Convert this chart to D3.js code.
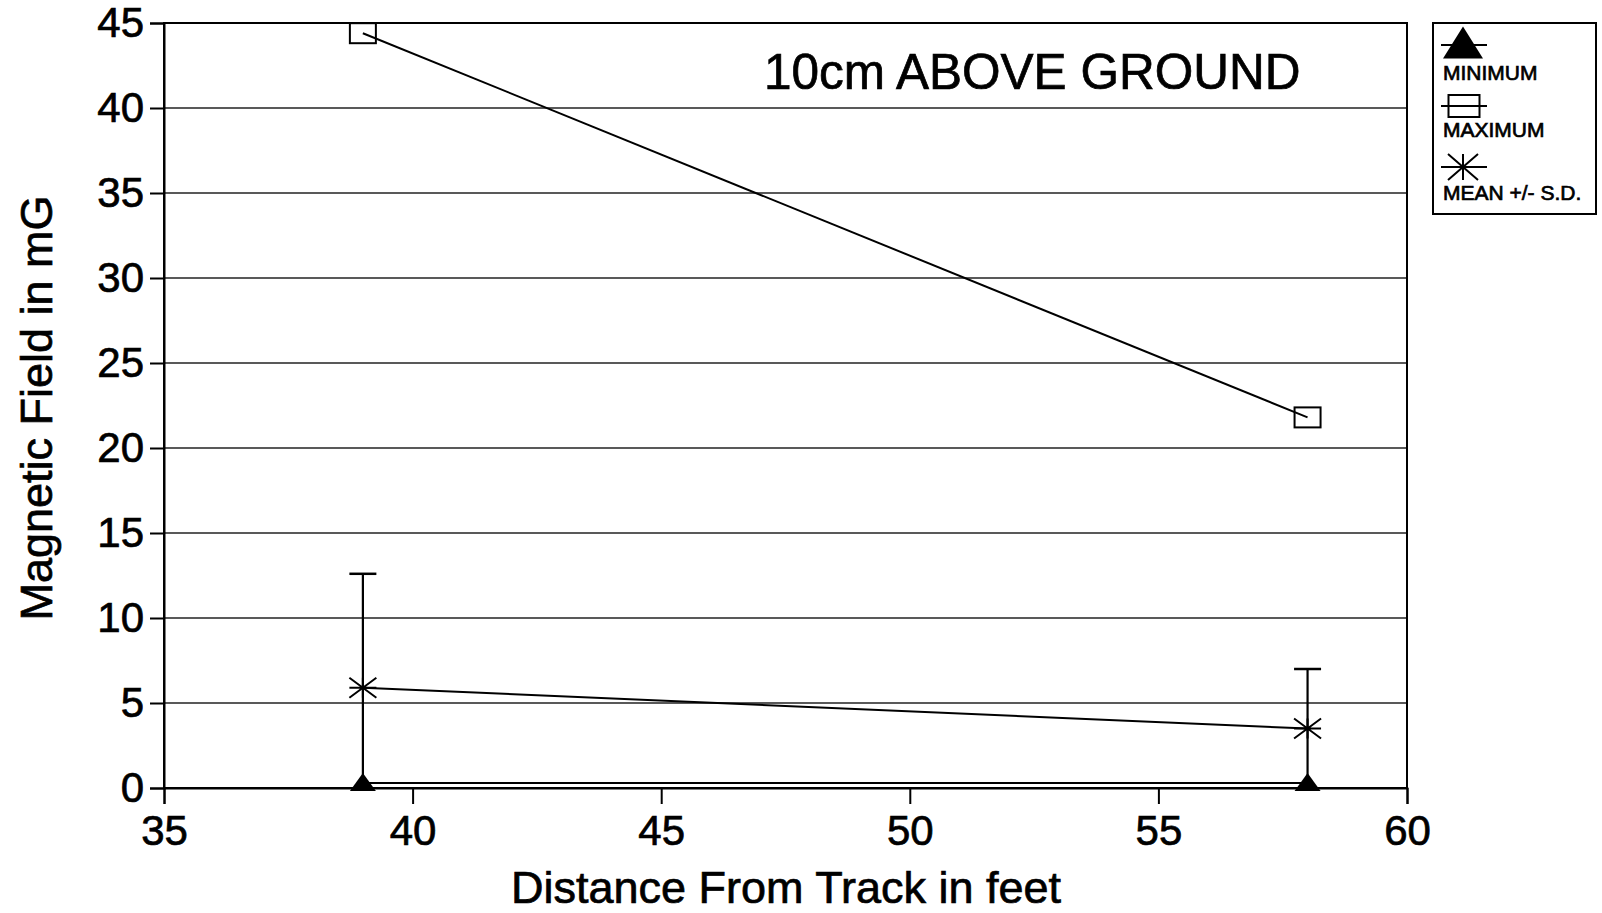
<!DOCTYPE html>
<html>
<head>
<meta charset="utf-8">
<script src="https://cdn.jsdelivr.net/npm/d3@7"></script>
<style>
  html, body { margin: 0; padding: 0; background: #fff; }
  svg { display: block; font-family: "Liberation Sans", Arial, Helvetica, sans-serif; }
  svg text { stroke: #000; stroke-width: 0.7px; fill: #000; }
</style>
</head>
<body>
<svg id="chart" width="1602" height="913"></svg>
<script>
// ---- data ----
const distances = [39, 58];
const minimumValues = [0.3, 0.3];
const maximumValues = [44.4, 21.8];
const meanValues = [5.9, 3.5];
const sdValues = [6.7, 3.5];
const xTicks = [35, 40, 45, 50, 55, 60];
const yTicks = [0, 5, 10, 15, 20, 25, 30, 35, 40, 45];
const legendLabels = ["MINIMUM", "MAXIMUM", "MEAN +/- S.D."];
const titleText = "10cm ABOVE GROUND";
const xLabel = "Distance From Track in feet";
const yLabel = "Magnetic Field in mG";

const svg = d3.select("#chart");
const x = d3.scaleLinear().domain([35, 60]).range([164, 1407]);
const y = d3.scaleLinear().domain([0, 45]).range([788, 23]);

// gridlines
svg.append("g").selectAll("line")
  .data(yTicks.filter(d => d > 0 && d < 45))
  .join("line")
  .attr("x1", x(35)).attr("x2", x(60))
  .attr("y1", d => y(d)).attr("y2", d => y(d))
  .attr("stroke", "#222").attr("stroke-width", 1.3);

// frame
svg.append("rect")
  .attr("x", x(35)).attr("y", y(45))
  .attr("width", x(60) - x(35)).attr("height", y(0) - y(45))
  .attr("fill", "none").attr("stroke", "#000").attr("stroke-width", 2);

// axes
const yAxis = d3.axisLeft(y).tickValues(yTicks).tickSize(14).tickPadding(6).tickFormat(d3.format("d"));
const gy = svg.append("g").attr("transform", `translate(${x(35)},0)`).call(yAxis);
gy.select(".domain").attr("stroke-width", 2);
gy.selectAll(".tick line").attr("stroke-width", 2);
gy.selectAll(".tick text").attr("font-size", 42).attr("fill", "#000")
  .attr("font-family", "'Liberation Sans', Arial, sans-serif");

const xAxis = d3.axisBottom(x).tickValues(xTicks).tickSize(16).tickPadding(11).tickFormat(d3.format("d"));
const gx = svg.append("g").attr("transform", `translate(0,${y(0)})`).call(xAxis);
gx.select(".domain").attr("stroke-width", 2);
gx.selectAll(".tick line").attr("stroke-width", 2);
gx.selectAll(".tick text").attr("font-size", 42).attr("fill", "#000")
  .attr("font-family", "'Liberation Sans', Arial, sans-serif");

// labels
svg.append("text").attr("x", 786).attr("y", 903).attr("text-anchor", "middle")
  .attr("font-size", 45).text(xLabel);
svg.append("text").attr("transform", "translate(52,408) rotate(-90)")
  .attr("text-anchor", "middle").attr("font-size", 45).text(yLabel);
svg.append("text").attr("x", 764).attr("y", 89).attr("font-size", 49.5).text(titleText);

const line = d3.line().x(d => x(d[0])).y(d => y(d[1]));
const pts = arr => distances.map((d, i) => [d, arr[i]]);

// symbols
function triangle(g, cx, cy, w, h) {
  g.append("path").attr("d", `M${cx},${cy - h * 0.55} L${cx + w / 2},${cy + h * 0.45} L${cx - w / 2},${cy + h * 0.45} Z`)
    .attr("fill", "#000");
}
function square(g, cx, cy, w, h) {
  g.append("rect").attr("x", cx - w / 2).attr("y", cy - h / 2).attr("width", w).attr("height", h)
    .attr("fill", "none").attr("stroke", "#000").attr("stroke-width", 2);
}
function asterisk(g, cx, cy, w, h) {
  const p = `M${cx - w / 2},${cy} L${cx + w / 2},${cy} M${cx},${cy - h / 2} L${cx},${cy + h / 2}` +
    ` M${cx - w / 2},${cy - h / 2} L${cx + w / 2},${cy + h / 2} M${cx - w / 2},${cy + h / 2} L${cx + w / 2},${cy - h / 2}`;
  g.append("path").attr("d", p).attr("stroke", "#000").attr("stroke-width", 2).attr("fill", "none");
}

const gData = svg.append("g");
// error bars
distances.forEach((d, i) => {
  const top = meanValues[i] + sdValues[i];
  const bot = Math.max(0, meanValues[i] - sdValues[i]);
  gData.append("line").attr("x1", x(d)).attr("x2", x(d)).attr("y1", y(top)).attr("y2", y(bot))
    .attr("stroke", "#000").attr("stroke-width", 2.2);
  gData.append("line").attr("x1", x(d) - 13.5).attr("x2", x(d) + 13.5).attr("y1", y(top)).attr("y2", y(top))
    .attr("stroke", "#000").attr("stroke-width", 2.5);
});

// series lines
[[maximumValues, 2], [meanValues, 2], [minimumValues, 2]].forEach(([arr, w]) => {
  gData.append("path").datum(pts(arr)).attr("d", line)
    .attr("fill", "none").attr("stroke", "#000").attr("stroke-width", w);
});

// markers
pts(maximumValues).forEach(p => square(gData, x(p[0]), y(p[1]), 26, 20));
pts(meanValues).forEach(p => asterisk(gData, x(p[0]), y(p[1]), 27, 20));
pts(minimumValues).forEach(p => triangle(gData, x(p[0]), y(p[1]), 26, 18));

// legend
const lg = svg.append("g");
lg.append("rect").attr("x", 1433).attr("y", 23).attr("width", 163).attr("height", 191)
  .attr("fill", "#fff").attr("stroke", "#000").attr("stroke-width", 2);
const legendY = [45, 106, 167];
const textY = [80, 137, 200];
legendLabels.forEach((lab, i) => {
  lg.append("line").attr("x1", 1441).attr("x2", 1487).attr("y1", legendY[i]).attr("y2", legendY[i])
    .attr("stroke", "#000").attr("stroke-width", 2);
  if (i === 0) triangle(lg, 1463, legendY[i] - 1, 40, 32);
  if (i === 1) square(lg, 1464, legendY[i], 31, 22);
  if (i === 2) asterisk(lg, 1463, legendY[i], 30, 26);
  lg.append("text").attr("x", 1443).attr("y", textY[i]).attr("font-size", 21).text(lab);
});
</script>
</body>
</html>
